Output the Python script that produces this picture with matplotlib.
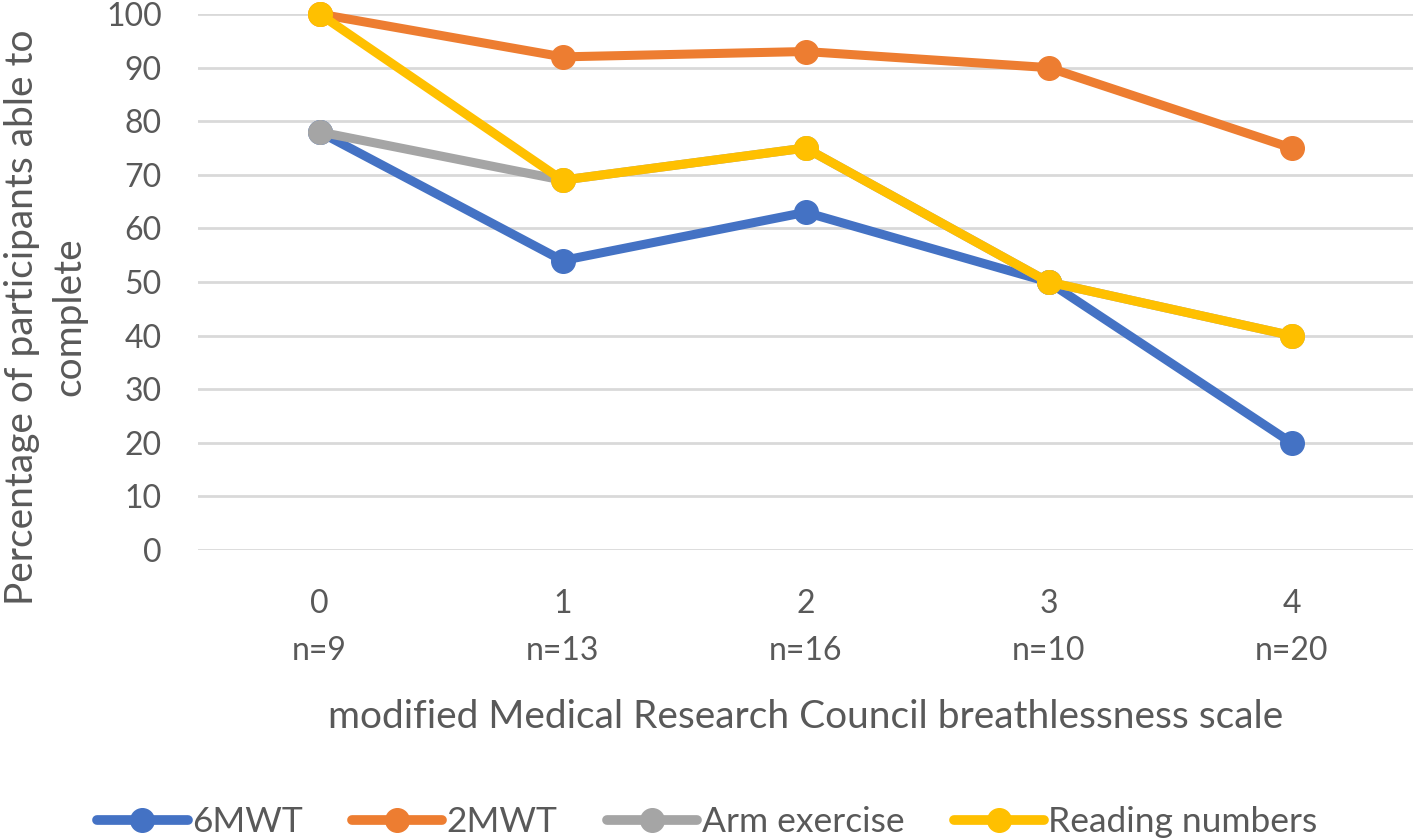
import matplotlib
matplotlib.use("Agg")
import matplotlib.pyplot as plt

plt.rcParams['font.family'] = ['Lato', 'DejaVu Sans']

categories = ["0\nn=9", "1\nn=13", "2\nn=16", "3\nn=10", "4\nn=20"]
six_mwt = [78, 54, 63, 50, 20]
two_mwt = [100, 92, 93, 90, 75]
arm_exercise = [78, 69, 75, 50, 40]
reading_numbers = [100, 69, 75, 50, 40]
series_names = ["6MWT", "2MWT", "Arm exercise", "Reading numbers"]
colors = ["#4472C4", "#ED7D31", "#A5A5A5", "#FFC000"]
yticks = list(range(0, 101, 10))

TXT = '#595959'

fig = plt.figure(figsize=(14.15, 8.39), dpi=100)
ax = fig.add_axes([198/1415, 1-550/839, (1413-198)/1415, (550-14)/839])

x = list(range(len(categories)))
for vals, name, c in zip([six_mwt, two_mwt, arm_exercise, reading_numbers], series_names, colors):
    ax.plot(x, vals, color=c, lw=6.5, marker='o', markersize=17, label=name,
            clip_on=False, solid_capstyle='round', zorder=3)

ax.set_xlim(-0.5, len(categories) - 0.5)
ax.set_ylim(0, 100)
ax.set_yticks(yticks)
ax.set_xticks(x)
ax.set_xticklabels(categories, linespacing=1.7)
ax.grid(axis='y', color='#D9D9D9', lw=2)
ax.set_axisbelow(True)
for s in ax.spines.values():
    s.set_visible(False)
ax.tick_params(axis='both', length=0, labelsize=23, colors=TXT)
ax.tick_params(axis='x', pad=28)
ax.tick_params(axis='y', pad=26)

ax.set_xlabel("modified Medical Research Council breathlessness scale", fontsize=28,
              color=TXT, labelpad=24)
fig.text(46/1415, 1-317/839, "Percentage of participants able to\ncomplete", rotation=90,
         fontsize=28, color=TXT, ha='center', va='center', ma='center', linespacing=1.4)

leg = fig.legend(loc='center', bbox_to_anchor=(0.5, 1-822/839), ncol=4, frameon=False,
                 fontsize=25.5, labelcolor=TXT, handlelength=2.55, columnspacing=1.4,
                 handletextpad=0.12)
for h in leg.legend_handles:
    h.set_markersize(17)
    h.set_linewidth(7)

fig.savefig("out.png", dpi=100, facecolor='white')
